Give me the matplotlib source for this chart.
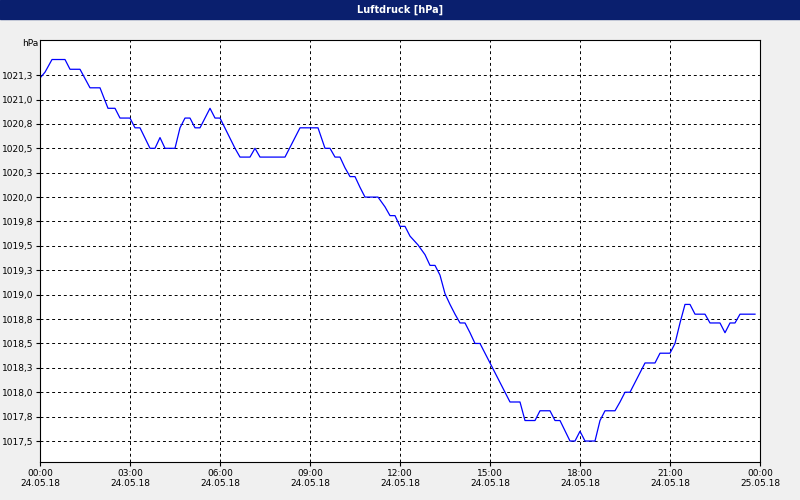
import matplotlib
matplotlib.use("Agg")
import matplotlib.pyplot as plt
from matplotlib.patches import Rectangle

minutes = [0,10,24,50,60,80,100,120,136,150,160,180,190,200,220,230,240,250,270,280,
           290,300,310,320,340,350,360,390,400,420,430,440,490,520,556,570,580,590,600,610,
           620,630,640,650,676,690,700,710,720,730,740,756,770,780,790,800,810,820,830,840,
           850,860,870,880,890,900,910,920,930,940,960,970,990,1000,1020,1030,1040,1060,1070,1080,
           1090,1110,1120,1130,1150,1160,1170,1180,1190,1200,1210,1230,1240,1260,1270,1280,1290,1300,1310,1330,
           1340,1360,1370,1380,1390,1400,1430]
pressure = [1021.22,1021.28,1021.41,1021.41,1021.31,1021.31,1021.12,1021.12,1020.91,1020.91,
            1020.81,1020.81,1020.71,1020.71,1020.50,1020.50,1020.61,1020.50,1020.50,1020.71,
            1020.81,1020.81,1020.71,1020.71,1020.91,1020.81,1020.81,1020.50,1020.41,1020.41,
            1020.50,1020.41,1020.41,1020.71,1020.71,1020.50,1020.50,1020.41,1020.41,1020.30,
            1020.21,1020.21,1020.10,1020.00,1020.00,1019.90,1019.81,1019.81,1019.70,1019.70,
            1019.60,1019.51,1019.41,1019.30,1019.30,1019.20,1019.01,1018.90,1018.80,1018.71,
            1018.71,1018.61,1018.50,1018.50,1018.40,1018.30,1018.20,1018.10,1018.00,1017.90,
            1017.90,1017.71,1017.71,1017.81,1017.81,1017.71,1017.71,1017.50,1017.50,1017.60,
            1017.50,1017.50,1017.71,1017.81,1017.81,1017.90,1018.00,1018.00,1018.10,1018.20,
            1018.30,1018.30,1018.40,1018.40,1018.50,1018.71,1018.90,1018.90,1018.80,1018.80,
            1018.71,1018.71,1018.61,1018.71,1018.71,1018.80,1018.80]
yticks = [1017.5 + 0.25*i for i in range(16)]
ytick_labels = [("%.1f" % (round(v*10+1e-6)/10)).replace(".", ",") for v in yticks]
xticks = [0,180,360,540,720,900,1080,1260,1440]
xtick_labels = ["00:00\n24.05.18","03:00\n24.05.18","06:00\n24.05.18","09:00\n24.05.18",
                "12:00\n24.05.18","15:00\n24.05.18","18:00\n24.05.18","21:00\n24.05.18",
                "00:00\n25.05.18"]

fig = plt.figure(figsize=(8,5), dpi=100, facecolor="#f0f0f0")
fig.patches.append(Rectangle((0,0.962),1,0.038,transform=fig.transFigure,color="#0a1f6e",zorder=0))
fig.text(0.5,0.981,"Luftdruck [hPa]",color="white",ha="center",va="center",fontsize=7,fontweight="bold")
ax = fig.add_axes([0.05,0.076,0.9,0.844])
ax.plot(minutes, pressure, color="#0000ff", lw=0.9)
ax.set_xlim(0,1440)
ax.set_ylim(1017.285,1021.61)
ax.set_yticks(yticks)
ax.set_yticklabels(ytick_labels, fontsize=6.5)
ax.set_xticks(xticks)
ax.set_xticklabels(xtick_labels, fontsize=6.5)
ax.grid(True, color="black", linestyle=(0,(3,3)), lw=0.7)
ax.tick_params(length=3, pad=2)
for s in ax.spines.values():
    s.set_linewidth(0.8)
fig.text(0.028,0.912,"hPa",fontsize=6.5,ha="left",va="center")
fig.savefig("out.png", dpi=100, facecolor=fig.get_facecolor())
